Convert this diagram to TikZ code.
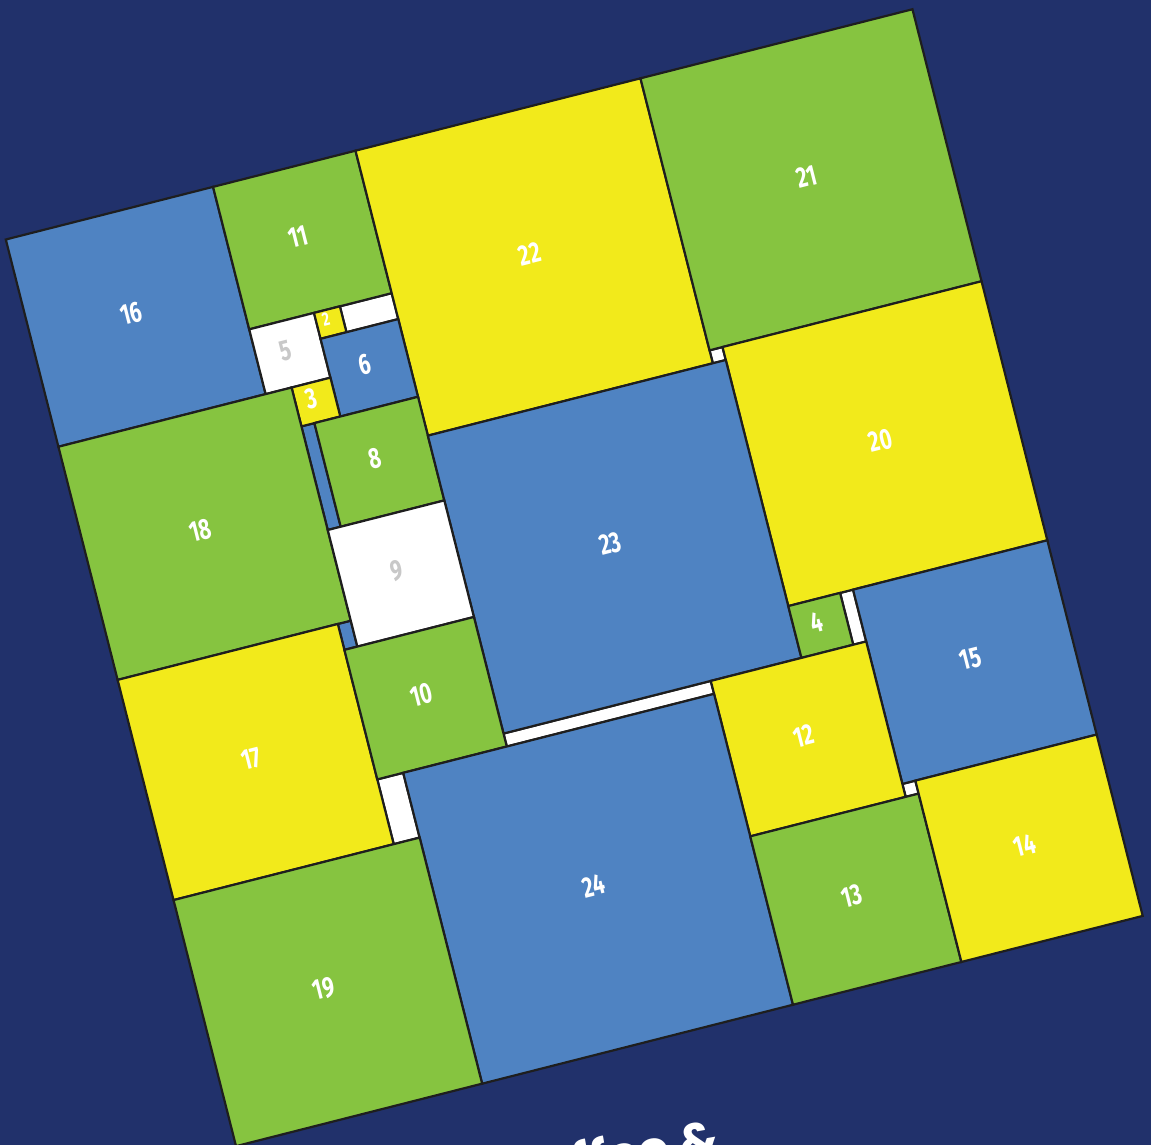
\documentclass[tikz,border=0pt]{standalone}
\usepackage{fontspec}
\newfontfamily\numfont{Fira Sans}[FakeStretch=0.72]
\newfontfamily\titlefont{Poppins}
\definecolor{navy}{RGB}{33,49,107}
\definecolor{tblue}{RGB}{79,131,194}
\definecolor{tgreen}{RGB}{134,196,64}
\definecolor{tyellow}{RGB}{242,234,27}
\definecolor{tgray}{RGB}{200,200,200}
\definecolor{edge}{RGB}{30,30,30}
\tikzset{
  tileedge/.style={draw=edge, line width=2.2pt, line join=miter},
  lbl/.style={text=white, font=\numfont\bfseries\fontsize{29}{29}\selectfont, inner sep=0pt, transform shape},
  lblgray/.style={lbl, text=tgray},
  lblsmall/.style={lbl, font=\numfont\bfseries\fontsize{19}{19}\selectfont},
}
\newcommand\tile[6]{%
  \draw[tileedge, fill=#4] (#1,#2) rectangle ++(#3,#3);
  \node[#5] (t#6) at ({#1+#3/2-0.25},{#2+#3/2-0.3}) {#6};}
\newcommand\gapbox[5]{%
  \draw[tileedge, fill=#5] (#1,#2) rectangle (#3,#4);}
\begin{document}
\begin{tikzpicture}
\fill[navy] (0pt,0pt) rectangle (1151pt,-1145pt);
\useasboundingbox (0pt,0pt) rectangle (1151pt,-1145pt);
\begin{scope}[shift={(5.8pt,-239.5pt)}, rotate=14.25, x=13.364pt, y=-13.364pt]
  % gaps
  \gapbox{49}{21}{50}{22}{white}
  \gapbox{54}{41}{55}{45}{white}
  \gapbox{55}{56}{56}{57}{white}
  \gapbox{27}{45}{43}{46}{white}
  \gapbox{17}{46}{19}{51}{white}
  \gapbox{23}{11}{27}{13}{white}
  \gapbox{18}{19}{19}{27}{tblue}
  \gapbox{17}{34}{18}{36}{tblue}
  % tiles
  \tile{0}{0}{16}{tblue}{lbl}{16}
  \tile{16}{0}{11}{tgreen}{lbl}{11}
  \tile{27}{0}{22}{tyellow}{lbl}{22}
  \tile{49}{0}{21}{tgreen}{lbl}{21}
  \tile{16}{11}{5}{white}{lblgray}{5}
  \tile{21}{11}{2}{tyellow}{lblsmall}{2}
  \tile{21}{13}{6}{tblue}{lbl}{6}
  \tile{18}{16}{3}{tyellow}{lbl}{3}
  \tile{0}{16}{18}{tgreen}{lbl}{18}
  \tile{19}{19}{8}{tgreen}{lbl}{8}
  \tile{50}{21}{20}{tyellow}{lbl}{20}
  \tile{27}{22}{23}{tblue}{lbl}{23}
  \tile{18}{27}{9}{white}{lblgray}{9}
  \tile{0}{34}{17}{tyellow}{lbl}{17}
  \tile{17}{36}{10}{tgreen}{lbl}{10}
  \tile{50}{41}{4}{tgreen}{lbl}{4}
  \tile{55}{41}{15}{tblue}{lbl}{15}
  \tile{43}{45}{12}{tyellow}{lbl}{12}
  \tile{19}{46}{24}{tblue}{lbl}{24}
  \tile{0}{51}{19}{tgreen}{lbl}{19}
  \tile{43}{57}{13}{tgreen}{lbl}{13}
  \tile{56}{56}{14}{tyellow}{lbl}{14}
\end{scope}
\node[anchor=base east, rotate=10, text=white, inner sep=0pt,
      font=\titlefont\bfseries\fontsize{50}{50}\selectfont] (title) at (722pt,-1155pt) {Coffee \&};
\end{tikzpicture}
\end{document}
